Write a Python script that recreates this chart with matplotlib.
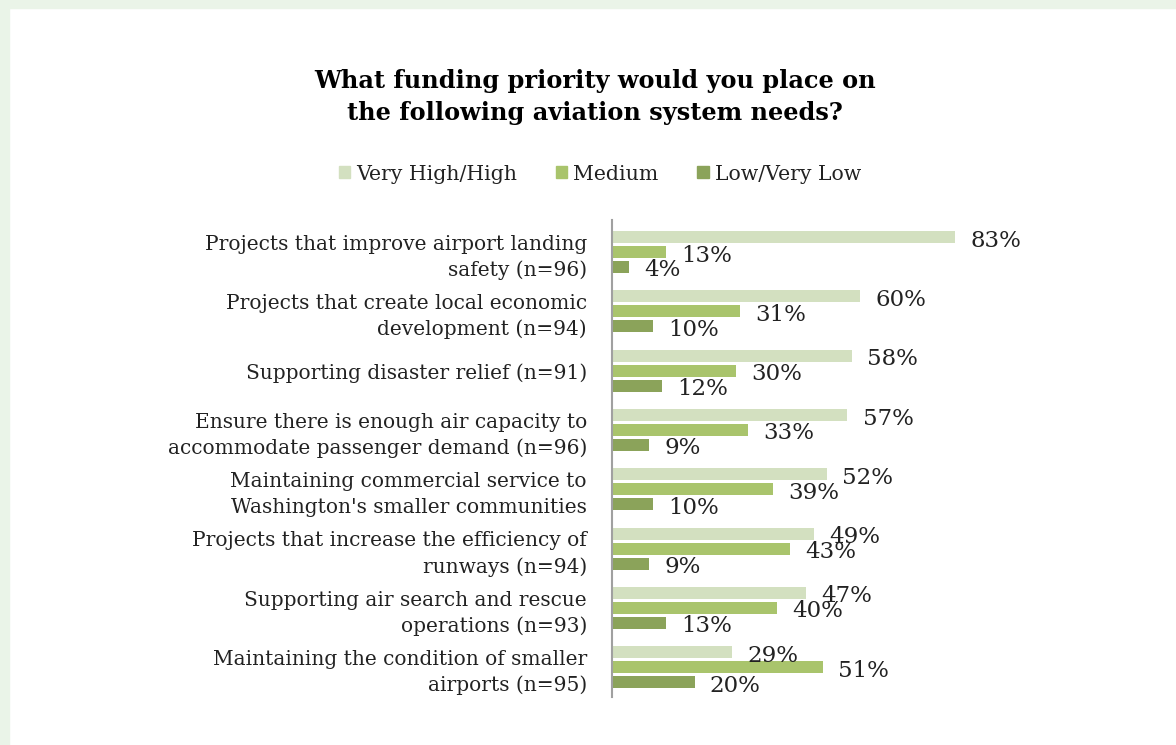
import matplotlib.pyplot as plt
from matplotlib.patches import Patch, Rectangle

# Survey data
categories = [
    "Projects that improve airport landing\nsafety (n=96)",
    "Projects that create local economic\ndevelopment (n=94)",
    "Supporting disaster relief (n=91)",
    "Ensure there is enough air capacity to\naccommodate passenger demand (n=96)",
    "Maintaining commercial service to\nWashington's smaller communities",
    "Projects that increase the efficiency of\nrunways (n=94)",
    "Supporting air search and rescue\noperations (n=93)",
    "Maintaining the condition of smaller\nairports (n=95)",
]
very_high = [83, 60, 58, 57, 52, 49, 47, 29]
medium = [13, 31, 30, 33, 39, 43, 40, 51]
low = [4, 10, 12, 9, 10, 9, 13, 20]

series_names = ["Very High/High", "Medium", "Low/Very Low"]
colors = ["#d3e0c0", "#a9c46c", "#8ba35a"]

plt.rcParams['font.family'] = ['DejaVu Serif']

fig = plt.figure(figsize=(11.76, 7.45), dpi=100)
fig.patch.set_facecolor("white")
# pale green frame around the panel
fig.patches.append(Rectangle((0, 0), 9 / 1176, 1, transform=fig.transFigure,
                             color="#eaf4e8", zorder=0))
fig.patches.append(Rectangle((0, 1 - 8 / 745), 1, 8 / 745, transform=fig.transFigure,
                             color="#eaf4e8", zorder=0))

ax = fig.add_axes([612 / 1176, 48 / 745, 413 / 1176, 477 / 745])

step = 0.2525
bar_h = 0.2
y = list(range(len(categories)))
for k, vals in enumerate([very_high, medium, low]):
    pos = [yi + (k - 1) * step for yi in y]
    ax.barh(pos, vals, height=bar_h, color=colors[k], label=series_names[k])
    for p, v in zip(pos, vals):
        ax.annotate(f"{v}%", (v, p), xytext=(11, -2.5), textcoords="offset points",
                    ha="left", va="center", fontsize=16.5, color="#222222")

ax.set_xlim(0, 100)
ax.set_ylim(7.5, -0.54)
ax.set_yticks(y)
ax.set_yticklabels(categories, fontsize=14.5, color="#222222", linespacing=1.42)
ax.tick_params(axis="y", length=0, pad=18)
ax.set_xticks([])
for s in ["top", "right", "bottom"]:
    ax.spines[s].set_visible(False)
ax.spines["left"].set_color("#a0a0a0")
ax.spines["left"].set_linewidth(1.5)

fig.text(595 / 1176, 1 - 97 / 745,
         "What funding priority would you place on\nthe following aviation system needs?",
         ha="center", va="center", fontsize=17.3, fontweight="bold", linespacing=1.38)

handles = [Patch(color=c) for c in colors]
fig.legend(handles, series_names, loc="center", bbox_to_anchor=(600 / 1176, 1 - 174 / 745),
           ncol=3, frameon=False, fontsize=14.7, handlelength=0.55, handleheight=0.55,
           handletextpad=0.3, columnspacing=1.9, labelcolor="#222222")

fig.savefig("out.png", dpi=100)
